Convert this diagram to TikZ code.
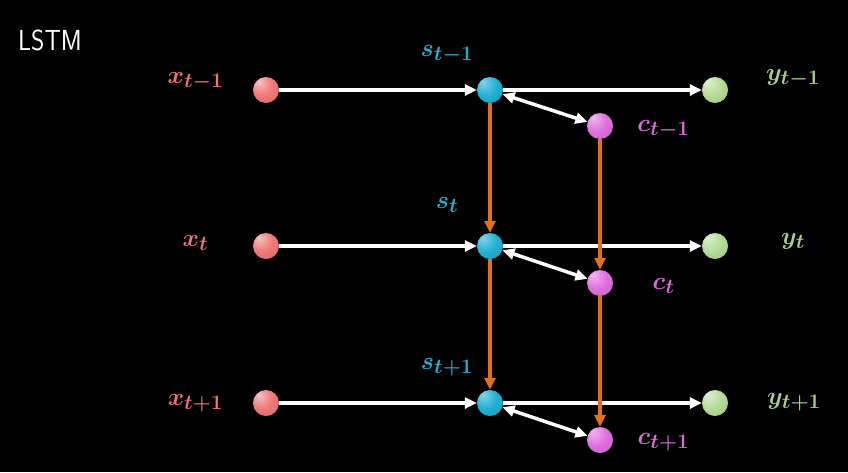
\documentclass[tikz,border=0pt]{standalone}
\usetikzlibrary{arrows.meta}
\definecolor{xcol}{HTML}{F07878}
\definecolor{scol}{HTML}{22B0D4}
\definecolor{ccol}{HTML}{E070E0}
\definecolor{ycol}{HTML}{B4DC98}
\definecolor{xlab}{HTML}{F07272}
\definecolor{slab}{HTML}{26AED2}
\definecolor{clab}{HTML}{DA6CDA}
\definecolor{ylab}{HTML}{A8D08C}
\definecolor{orng}{HTML}{E2701E}
\pgfdeclareradialshading{xball}{\pgfpoint{-14bp}{16bp}}{color(0bp)=(white!55!xcol); color(22bp)=(xcol); color(48bp)=(xcol!85!black); color(70bp)=(xcol!85!black)}
\pgfdeclareradialshading{sball}{\pgfpoint{-14bp}{16bp}}{color(0bp)=(white!45!scol); color(22bp)=(scol); color(48bp)=(scol!85!black); color(70bp)=(scol!85!black)}
\pgfdeclareradialshading{cball}{\pgfpoint{-14bp}{16bp}}{color(0bp)=(white!50!ccol); color(22bp)=(ccol); color(48bp)=(ccol!85!black); color(70bp)=(ccol!85!black)}
\pgfdeclareradialshading{yball}{\pgfpoint{-14bp}{16bp}}{color(0bp)=(white!55!ycol); color(22bp)=(ycol); color(48bp)=(ycol!85!black); color(70bp)=(ycol!85!black)}
\tikzset{
  ball/.style={circle,minimum size=26pt,inner sep=0pt,shading=#1},
  lab/.style={font=\fontsize{31}{36}\selectfont\boldmath,text=#1,anchor=base,inner sep=0pt},
  warr/.style={white,line width=3.5pt,-{Triangle[length=12pt,width=11pt]}},
  wdarr/.style={white,line width=3.5pt,{Triangle[length=12pt,width=11pt]}-{Triangle[length=12pt,width=11pt]}},
  oarr/.style={orng,line width=3.5pt,-{Triangle[length=12pt,width=11pt]}},
}
\begin{document}
\begin{tikzpicture}[x=1pt,y=-1pt]
\fill[black] (0,0) rectangle (848,472);
\useasboundingbox (0,0) rectangle (848,472);
\node[text=white,anchor=base west,inner sep=0pt] (title) at (18,50) {\scalebox{0.88}[1]{\sffamily\fontsize{29}{29}\selectfont LSTM}};
% nodes
\foreach \i/\yy/\cy in {1/90/126,2/246/283,3/403/440}{
  \node[ball=xball] (x\i) at (266,\yy) {};
  \node[ball=sball] (s\i) at (490,\yy) {};
  \node[ball=cball] (c\i) at (600,\cy) {};
  \node[ball=yball] (y\i) at (715,\yy) {};
}
% labels
\node[lab=xlab] (lx1) at (195.5,83) {$x_{t-1}$};
\node[lab=xlab] (lx2) at (195.5,246) {$x_{t}$};
\node[lab=xlab] (lx3) at (195.5,405) {$x_{t+1}$};
\node[lab=slab] (ls1) at (447,56) {$s_{t-1}$};
\node[lab=slab] (ls2) at (447,208) {$s_{t}$};
\node[lab=slab] (ls3) at (447,369) {$s_{t+1}$};
\node[lab=clab] (lc1) at (663.5,131) {$c_{t-1}$};
\node[lab=clab] (lc2) at (663.5,289) {$c_{t}$};
\node[lab=clab] (lc3) at (663.5,444) {$c_{t+1}$};
\node[lab=ylab] (ly1) at (793,80) {$y_{t-1}$};
\node[lab=ylab] (ly2) at (793,244) {$y_{t}$};
\node[lab=ylab] (ly3) at (794,404) {$y_{t+1}$};
% connectors
\foreach \i in {1,2,3}{
  \draw[warr] (x\i) -- (s\i);
  \draw[warr] (s\i) -- (y\i);
  \draw[wdarr] (s\i) -- (c\i);
}
\draw[oarr] (s1) -- (s2);
\draw[oarr] (s2) -- (s3);
\draw[oarr] (c1) -- (c2);
\draw[oarr] (c2) -- (c3);
\end{tikzpicture}
\end{document}
